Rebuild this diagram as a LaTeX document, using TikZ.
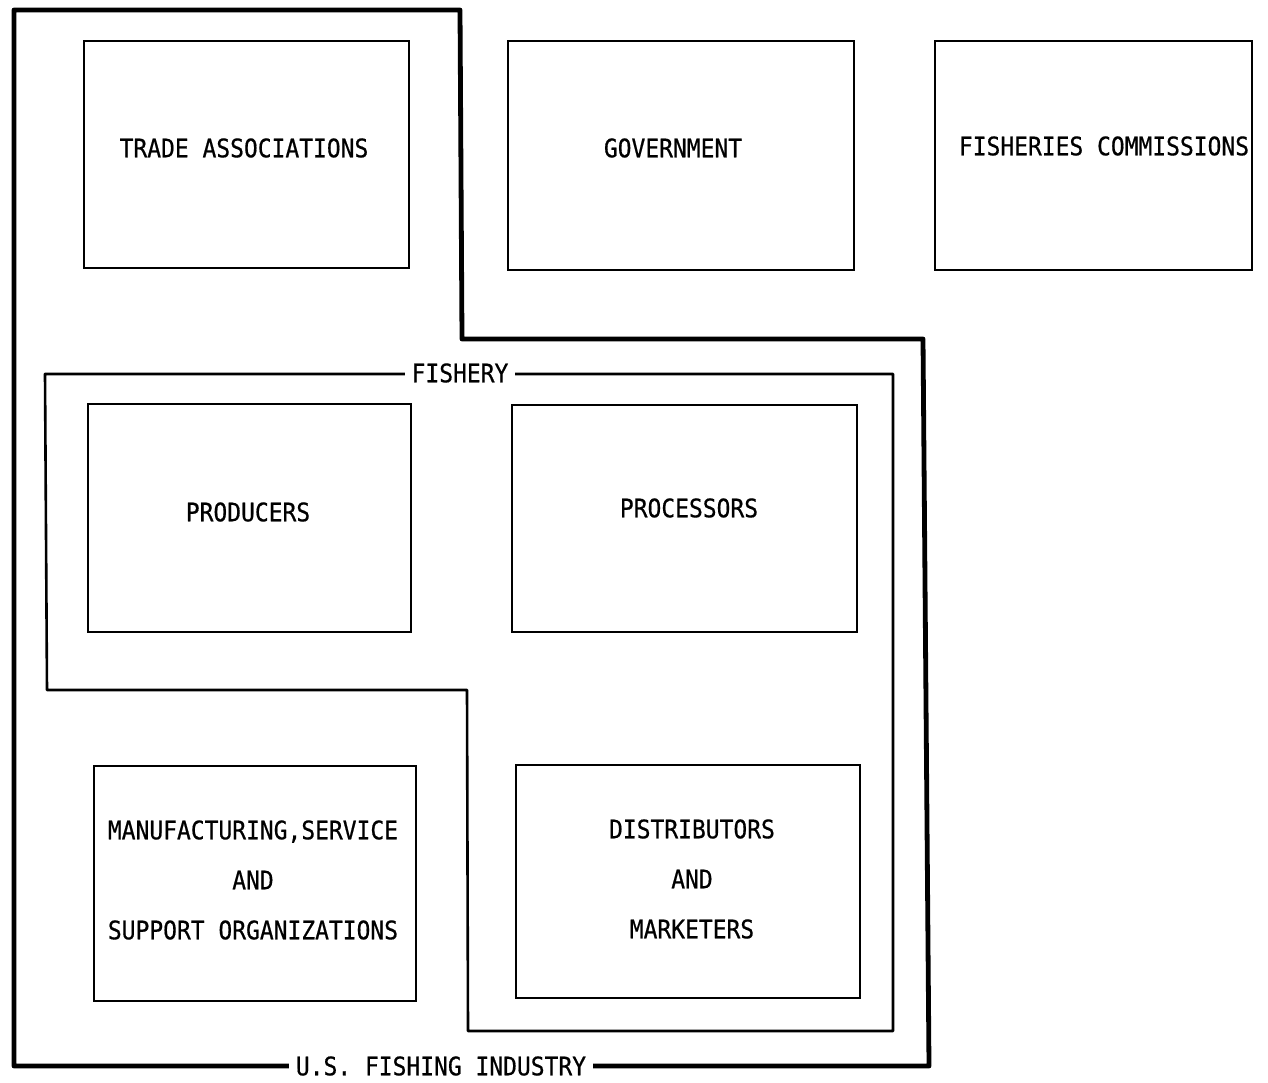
\documentclass[tikz,border=0pt]{standalone}
\usepackage{fontspec}
\newfontfamily\typefont[FakeStretch=0.9,FakeBold=0.6]{DejaVu Sans Mono}
\begin{document}
\begin{tikzpicture}[x=1pt,y=-1pt,
  every node/.style={font=\typefont\fontsize{25.5}{50}\selectfont},
  unit/.style={draw,line width=2.8pt,inner sep=0pt},
  caption/.style={inner sep=0pt,align=center},
  industry/.style={line width=4.8pt,line join=round},
  fishery/.style={line width=2.6pt,line join=round},
  gaplabel/.style={fill=white,inner xsep=7pt,inner ysep=2pt}]
\useasboundingbox (0,0) rectangle (1268,1083);

% unit boxes: corners given as (left,top) rectangle (right,bottom)
\newcommand{\unitbox}[5]{%
  \node[unit,minimum width={#4-#2},minimum height={#5-#3}] (#1)
    at ({(#2+#4)/2},{(#3+#5)/2}) {};}
\unitbox{trade}{84}{41}{409}{268}
\unitbox{gov}{508}{41}{854}{270}
\unitbox{comm}{935}{41}{1252}{270}
\unitbox{prod}{88}{404}{411}{632}
\unitbox{proc}{512}{405}{857}{632}
\unitbox{manu}{94}{766}{416}{1001}
\unitbox{dist}{516}{765}{860}{998}

% captions
\node[caption] (tradeT) at (244,148) {TRADE ASSOCIATIONS};
\node[caption] (govT) at (673,148) {GOVERNMENT};
\node[caption] (commT) at (1104,146) {FISHERIES COMMISSIONS};
\node[caption] (prodT) at (248,512) {PRODUCERS};
\node[caption] (procT) at (689,508) {PROCESSORS};
\node[caption] (manuT) at (253,880) {MANUFACTURING,SERVICE\\AND\\SUPPORT ORGANIZATIONS};
\node[caption] (distT) at (692,879) {DISTRIBUTORS\\AND\\MARKETERS};

% U.S. fishing industry boundary
\coordinate (i1) at (14,10);
\coordinate (i2) at (460,10);
\coordinate (i3) at (462,339);
\coordinate (i4) at (923,339);
\coordinate (i5) at (929,1066);
\coordinate (i6) at (14,1066);
\draw[industry] (i1) -- (i2) -- (i3) -- (i4) -- (i5) -- (i6) -- cycle;
\node[gaplabel] (indT) at (441,1066) {U.S. FISHING INDUSTRY};

% fishery boundary
\coordinate (f1) at (45,374);
\coordinate (f2) at (893,374);
\coordinate (f3) at (893,1031);
\coordinate (f4) at (468,1031);
\coordinate (f5) at (467,690);
\coordinate (f6) at (47,690);
\draw[fishery] (f1) -- (f2) -- (f3) -- (f4) -- (f5) -- (f6) -- cycle;
\node[gaplabel] (fishT) at (460,373) {FISHERY};
\end{tikzpicture}
\end{document}
